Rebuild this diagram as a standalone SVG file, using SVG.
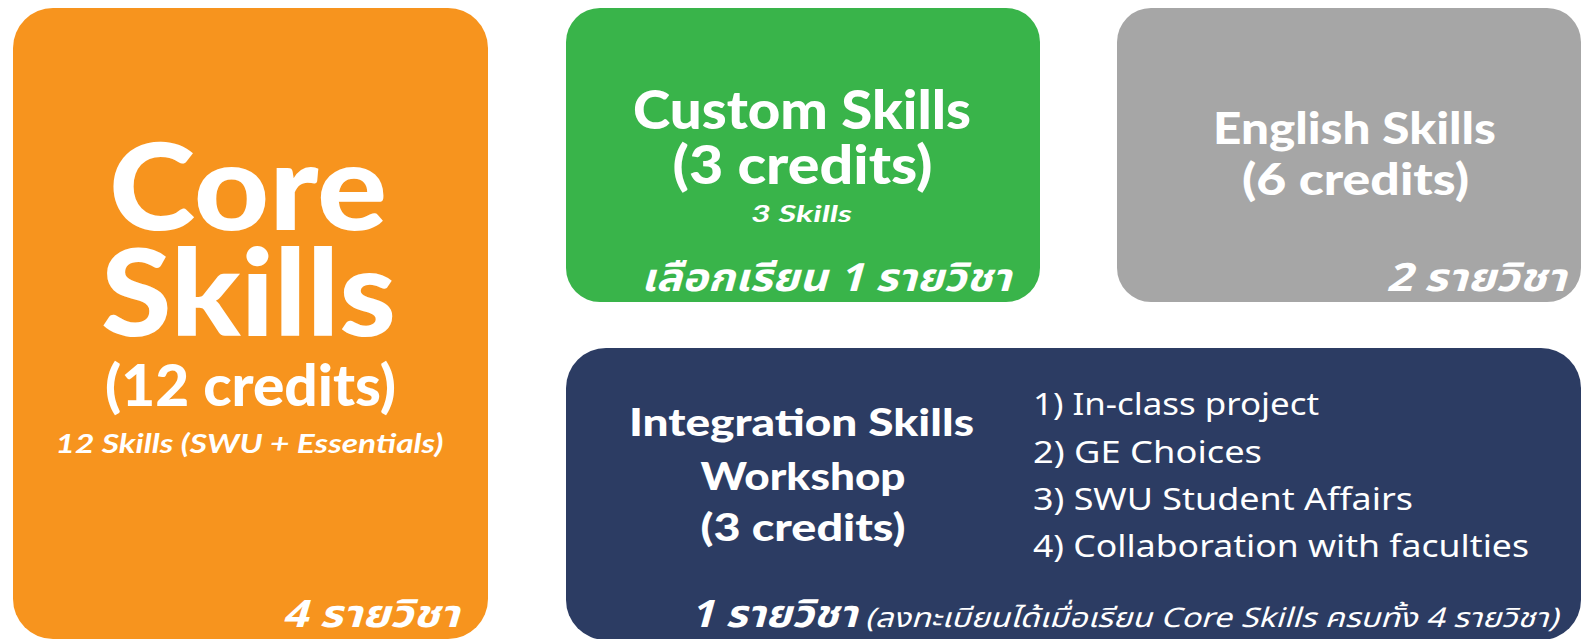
<svg xmlns="http://www.w3.org/2000/svg" width="1581" height="639" viewBox="0 0 1581 639">
<style>
.t{fill:#fff;font-family:"Lato","Inter","Noto Sans",sans-serif;font-weight:900;text-anchor:middle}
.th{fill:#fff;font-family:"Noto Sans Thai","Lato","Noto Sans",sans-serif;font-weight:700;font-style:italic}
.thr{fill:#fff;font-family:"Noto Sans Thai","Lato","Noto Sans",sans-serif;font-weight:400;font-style:italic}
.it{fill:#fff;font-family:"Lato","Noto Sans",sans-serif;font-weight:700;font-style:italic;text-anchor:middle}
.li{fill:#fff;font-family:"Noto Sans","Lato",sans-serif;font-weight:400;font-size:31px}
</style>
<rect width="1581" height="639" fill="#fff"/>
<g id="core">
<rect x="13" y="8" width="475" height="631" rx="40" fill="#F7941E"/>
<text class="t" x="248" y="230" font-size="120" textLength="278" lengthAdjust="spacingAndGlyphs">Core</text>
<text class="t" x="248.5" y="336" font-size="120" textLength="295" lengthAdjust="spacingAndGlyphs">Skills</text>
<text class="t" x="250.5" y="406" font-size="58" textLength="291" lengthAdjust="spacingAndGlyphs">(12 credits)</text>
<text class="it" x="249.5" y="453" font-size="26" textLength="388" lengthAdjust="spacingAndGlyphs">12 Skills (SWU + Essentials)</text>
<text class="th" x="282" y="627" font-size="38" textLength="177" lengthAdjust="spacingAndGlyphs">4 รายวิชา</text>
</g>
<g id="custom">
<rect x="566" y="8" width="474" height="294" rx="34" fill="#39B44A"/>
<text class="t" x="802" y="129" font-size="53" textLength="338" lengthAdjust="spacingAndGlyphs">Custom Skills</text>
<text class="t" x="802.5" y="184" font-size="53" textLength="260" lengthAdjust="spacingAndGlyphs">(3 credits)</text>
<text class="it" x="801.5" y="222" font-size="22" textLength="101" lengthAdjust="spacingAndGlyphs">3 Skills</text>
<text class="th" x="641" y="291" font-size="39" textLength="370" lengthAdjust="spacingAndGlyphs">เลือกเรียน 1 รายวิชา</text>
</g>
<g id="english">
<rect x="1117" y="8" width="464" height="294" rx="34" fill="#A6A6A6"/>
<text class="t" x="1354.5" y="144" font-size="44" textLength="283" lengthAdjust="spacingAndGlyphs">English Skills</text>
<text class="t" x="1355.5" y="194.5" font-size="44" textLength="227" lengthAdjust="spacingAndGlyphs">(6 credits)</text>
<text class="th" x="1386" y="291" font-size="39" textLength="180" lengthAdjust="spacingAndGlyphs">2 รายวิชา</text>
</g>
<g id="integration">
<rect x="566" y="348" width="1015" height="292" rx="40" fill="#2C3C63"/>
<text class="t" x="801.5" y="435.5" font-size="37" textLength="345" lengthAdjust="spacingAndGlyphs">Integration Skills</text>
<text class="t" x="803" y="490" font-size="37" textLength="205" lengthAdjust="spacingAndGlyphs">Workshop</text>
<text class="t" x="803" y="541" font-size="37" textLength="205" lengthAdjust="spacingAndGlyphs">(3 credits)</text>
<text class="li" x="1033" y="415" textLength="286" lengthAdjust="spacingAndGlyphs">1) In-class project</text>
<text class="li" x="1033" y="463" textLength="229" lengthAdjust="spacingAndGlyphs">2) GE Choices</text>
<text class="li" x="1033" y="510" textLength="380" lengthAdjust="spacingAndGlyphs">3) SWU Student Affairs</text>
<text class="li" x="1033" y="557" textLength="496" lengthAdjust="spacingAndGlyphs">4) Collaboration with faculties</text>
<text class="th" x="690" y="627" font-size="38" textLength="167" lengthAdjust="spacingAndGlyphs">1 รายวิชา</text>
<text class="thr" x="865" y="627" font-size="27" textLength="693" lengthAdjust="spacingAndGlyphs">(ลงทะเบียนได้เมื่อเรียน Core Skills ครบทั้ง 4 รายวิชา)</text>
</g>
<g id="connectors"/>
</svg>
